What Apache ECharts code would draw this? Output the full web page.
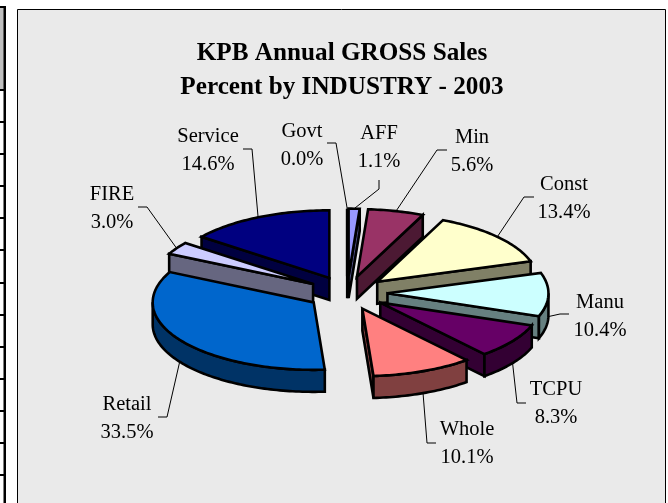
<!DOCTYPE html>
<html>
<head>
<meta charset="utf-8">
<style>html,body{margin:0;padding:0;background:#fff}#c{width:668px;height:503px}</style>
<script src="https://cdn.jsdelivr.net/npm/echarts@6/dist/echarts.min.js"></script>
</head>
<body>
<div id="c"></div>
<script>
const categories = ['AFF','Min','Const','Manu','TCPU','Whole','Retail','FIRE','Service','Govt'];
const values = [1.1,5.6,13.4,10.4,8.3,10.1,33.5,3.0,14.6,0.0];
const faceColors = ['#9999FF','#993366','#FFFFCC','#CCFFFF','#660066','#FF8080','#0066CC','#CCCCFF','#000080','#FFFFFF'];
const wallColors = ['#4C4C80','#4C1933','#808066','#668080','#330033','#804040','#003366','#666680','#000040','#808080'];
const titleLines = ['KPB Annual GROSS Sales','Percent by INDUSTRY - 2003'];

// layout of the pseudo-3D pie
const CX = 347.2, CY = 293, RX = 161, RY = 67.5, DEPTH = 22, EXPLODE = 0.25;
const STROKE = 2.6;
// label centre and leader elbow points, by category name
const labelLayout = {
  Service:{x:208,y:150.5,el:[[243,149],[252,149]]},
  Govt:{x:302,y:145.5,el:[[327,143],[336,143]]},
  AFF:{x:379,y:148,el:[[379,180],[379,189]]},
  Min:{x:472,y:152,el:[[447,150],[437,150]]},
  Const:{x:564,y:198.5,el:[[534,197],[524,197]]},
  Manu:{x:600,y:316.5,el:[[569,314],[560,314]]},
  TCPU:{x:556,y:404,el:[[526,403],[517,403]]},
  Whole:{x:467,y:444,el:[[436,443],[427,443]]},
  Retail:{x:127,y:418.5,el:[[158,417],[167,417]]},
  FIRE:{x:112,y:209,el:[[138,207],[147,207]]}
};
// paint order (back to front) of the slices
const paintOrder = ['Govt','AFF','Min','Const','Manu','TCPU','Whole','Service','FIRE','Retail'];

const total = values.reduce((a,b)=>a+b,0);
const slices = [];
let acc = 0;
values.forEach((v,i)=>{
  const a1 = acc/total*Math.PI*2; acc += v;
  const a2 = acc/total*Math.PI*2;
  const mid = (a1+a2)/2;
  const ax = CX + EXPLODE*RX*Math.sin(mid), ay = CY - EXPLODE*RY*Math.cos(mid);
  slices.push({a1,a2,mid,ax,ay,name:categories[i],value:v,face:faceColors[i],wall:wallColors[i]});
});
function pt(s,a,dz){ return [s.ax+RX*Math.sin(a), s.ay-RY*Math.cos(a)+(dz||0)]; }
function arc(s,a1,a2,dz){
  const n = Math.max(1,Math.ceil((a2-a1)/0.02)), out=[];
  for(let k=0;k<=n;k++) out.push(pt(s,a1+(a2-a1)*k/n,dz));
  return out;
}
function poly(points,fill,z2){
  return {type:'polygon',z2,shape:{points},silent:true,
    style:{fill,stroke:'#000',lineWidth:STROKE,lineJoin:'miter',miterLimit:6}};
}
const H = Math.PI/2, P = Math.PI;
function sliceParts(s,z){
  const out=[];
  // start-edge wall (faces the viewer on the left half)
  if(s.a1>P && s.a1<2*P+1e-9 && s.value>0){
    out.push(poly([[s.ax,s.ay],pt(s,s.a1),pt(s,s.a1,DEPTH),[s.ax,s.ay+DEPTH]],s.wall,z));
  }
  // end-edge wall (faces the viewer on the right half)
  if(s.a2<P || s.value===0){
    out.push(poly([[s.ax,s.ay],pt(s,s.a2),pt(s,s.a2,DEPTH),[s.ax,s.ay+DEPTH]],s.wall,z));
  }
  // rim
  const r1=Math.max(s.a1,H), r2=Math.min(s.a2,3*H);
  if(r2>r1){
    out.push(poly(arc(s,r1,r2,0).concat(arc(s,r1,r2,DEPTH).reverse()),s.wall,z));
  }
  out.push(poly([[s.ax,s.ay]].concat(arc(s,s.a1,s.a2,0)),s.face,z));
  return out;
}
function leaderStart(s){
  const front = Math.cos(s.mid)<0;
  return pt(s,s.mid,front?DEPTH:0);
}

const chart = echarts.init(document.getElementById('c'),null,{renderer:'canvas'});
const frame = [];
// neighbouring table fragment on the left edge of the page
frame.push({type:'rect',shape:{x:0,y:7,width:4,height:83},style:{fill:'#C0C0C0'}});
frame.push({type:'rect',shape:{x:3.5,y:7,width:2.5,height:496},style:{fill:'#000'}});
frame.push({type:'rect',shape:{x:0,y:6,width:6,height:2},style:{fill:'#000'}});
[90,122,154,186,218,250,283,315,347,379,411,443,475].forEach(y=>{
  frame.push({type:'rect',shape:{x:0,y:y-1,width:6,height:2},style:{fill:'#000'}});
});
frame.push({type:'rect',shape:{x:17.5,y:9.5,width:648,height:500},style:{fill:'#EAEAEA',stroke:'#000',lineWidth:1}});

chart.setOption({
  animation:false,
  backgroundColor:'#fff',
  title:{
    text:titleLines.join('\n'),left:337,top:31.5,textAlign:'center',
    textStyle:{fontFamily:'"Liberation Serif"',fontWeight:'bold',fontSize:25.2,lineHeight:34,color:'#000'}
  },
  graphic:{elements:frame.map(e=>Object.assign({z:-10,silent:true},e))},
  series:[
    {
      type:'custom',coordinateSystem:'none',silent:true,
      data:paintOrder.map((p,i)=>[categories.indexOf(p),i]),
      renderItem(params,api){
        const s = slices[api.value(0)];
        return {type:'group',children:sliceParts(s,10+params.dataIndex)};
      }
    },
    {
      type:'custom',coordinateSystem:'none',silent:true,
      data:categories.map((c,i)=>[i,values[i]]),
      renderItem(params,api){
        const s = slices[api.value(0)];
        const L = labelLayout[s.name];
        return {type:'group',children:[
          {type:'polyline',z2:100,shape:{points:L.el.concat([leaderStart(s)])},
           style:{fill:null,stroke:'#000',lineWidth:1}},
          {type:'text',z2:101,x:L.x,y:L.y,
           style:{text:s.name+'\n'+api.value(1).toFixed(1)+'%',align:'center',verticalAlign:'middle',
             fontFamily:'"Liberation Serif"',fontSize:20.5,lineHeight:28,fill:'#000'}}
        ]};
      }
    }
  ]
});
</script>
</body>
</html>
